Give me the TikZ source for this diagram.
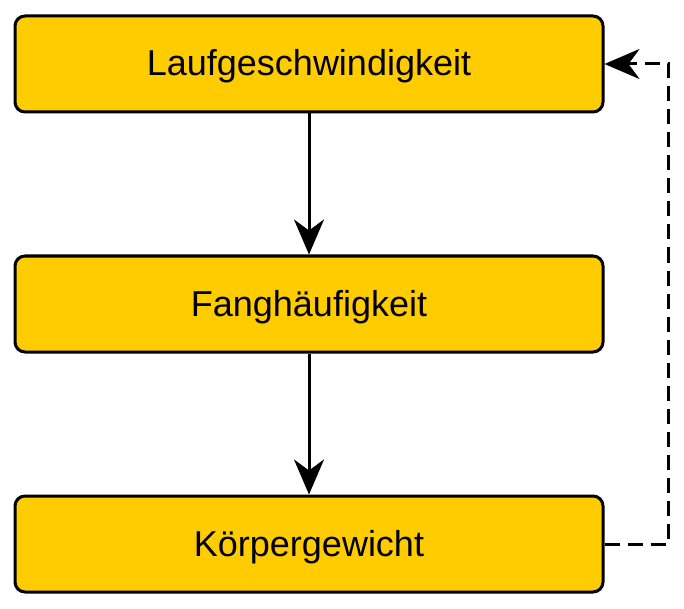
\documentclass[tikz,border=0pt]{standalone}
\usepackage{fontspec}
\setmainfont{Liberation Sans}
\usetikzlibrary{arrows.meta,positioning}
\definecolor{boxyellow}{HTML}{FFCC00}
\tikzset{
  factor/.style={draw=black, line width=3pt, fill=boxyellow, rounded corners=10pt,
                 minimum width=588pt, minimum height=96pt, inner sep=0pt,
                 text height=24pt, text depth=0pt,
                 font=\fontsize{36}{42}\selectfont},
  link/.style={line width=3pt, -{Stealth[length=35pt,width=30pt,inset=11pt]}},
  feedback/.style={link, dash pattern=on 15pt off 8pt}
}
\begin{document}
\begin{tikzpicture}[x=1pt, y=-1pt]
    \useasboundingbox (0,0) rectangle (684,609);
    % the three factors, stacked top to bottom
    \node[factor] (speed)  at (309,64)  {Laufgeschwindigkeit};
    \node[factor] (catch)  at (309,304) {Fanghäufigkeit};
    \node[factor] (weight) at (309,544) {Körpergewicht};

    % causal chain
    \draw[link] (speed) -- (catch);
    \draw[link] (catch) -- (weight);

    % feedback loop on the right
    \coordinate (turn) at (668,0);
    \draw[feedback] (weight.east) -- (weight.east -| turn) -- (speed.east -| turn) -- (speed.east);
\end{tikzpicture}
\end{document}
